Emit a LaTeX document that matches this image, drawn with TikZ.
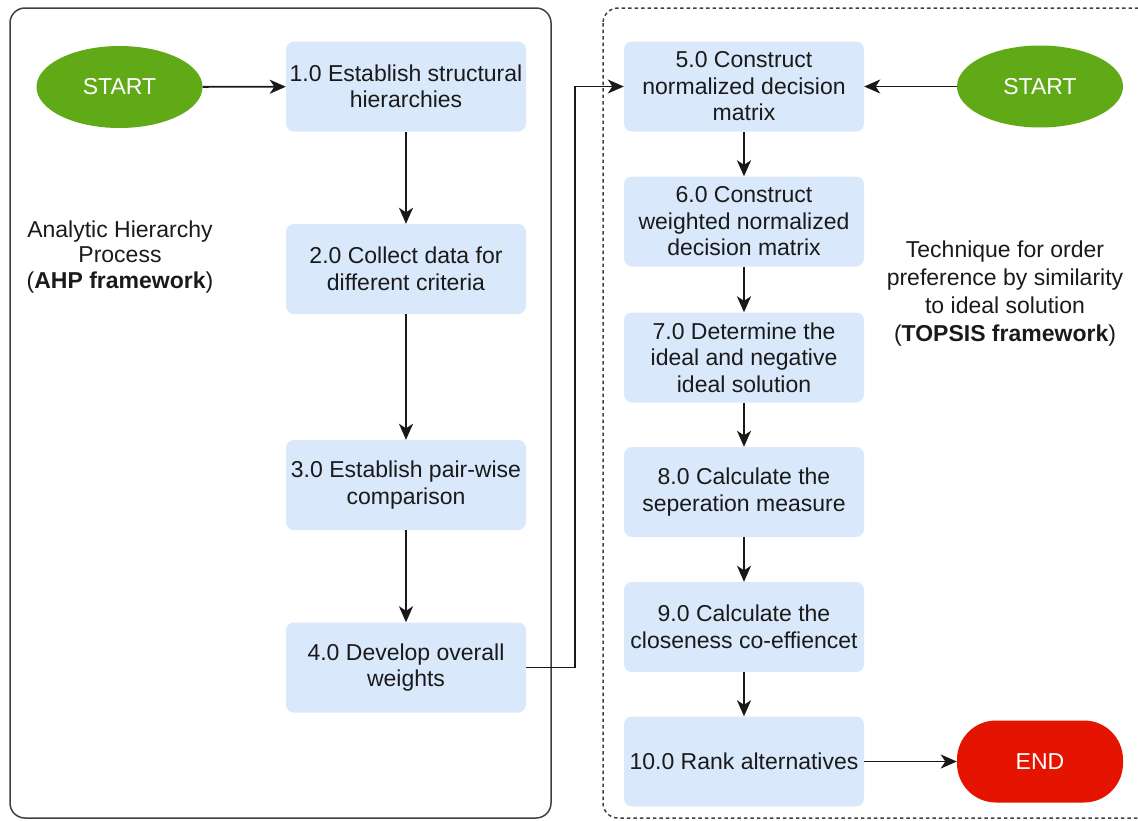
\documentclass[tikz,border=0pt]{standalone}
\usepackage{fontspec}
\setmainfont{Liberation Sans}
\usetikzlibrary{arrows.meta,shapes.geometric}
\definecolor{boxblue}{HTML}{DAE8FC}
\definecolor{startgreen}{HTML}{60A917}
\definecolor{endred}{HTML}{E51400}
\definecolor{txt}{HTML}{1A1A1A}
\tikzset{
  stepbox/.style={rectangle, rounded corners=8pt, fill=boxblue, draw=none,
    minimum width=240pt, minimum height=90pt, inner sep=1pt, align=center,
    text=txt, font=\fontsize{23}{26.5}\selectfont},
  startnode/.style={ellipse, fill=startgreen, draw=none, minimum width=166pt,
    minimum height=82pt, inner sep=0pt, text=white, font=\fontsize{23}{26}\selectfont},
  endnode/.style={rectangle, rounded corners=39pt, fill=endred, draw=none, minimum width=166pt,
    minimum height=82pt, inner sep=0pt, text=white, font=\fontsize{23}{26}\selectfont},
  framelabel/.style={align=center, text=txt, inner sep=0pt},
  arr/.style={line width=1.8pt, black!90, -{Stealth[length=16pt,width=14pt,inset=4.5pt]}},
  frame/.style={line width=1.5pt, black!75, rounded corners=15pt},
}
\begin{document}
\begin{tikzpicture}[x=1pt,y=-1pt]
\useasboundingbox (0,0) rectangle (1138,820);
\begin{scope}
\clip (0,0) rectangle (1138,820);
\draw[frame] (10,8) rectangle (551,818);
\draw[frame, dash pattern=on 3.5pt off 3pt] (603,8) rectangle (1170,818);
\end{scope}

\node[startnode] (s1) at (119.5,87) {START};
\node[stepbox] (b1) at (406,86.5) {1.0 Establish structural\\hierarchies};
\node[stepbox] (b2) at (406,269) {2.0 Collect data for\\different criteria};
\node[stepbox] (b3) at (406,485) {3.0 Establish pair-wise\\comparison};
\node[stepbox] (b4) at (406,667.5) {4.0 Develop overall\\weights};

\node[stepbox] (b5) at (744,86.5) {5.0 Construct\\normalized decision\\matrix};
\node[stepbox] (b6) at (744,221.5) {6.0 Construct\\weighted normalized\\decision matrix};
\node[stepbox] (b7) at (744,357.5) {7.0 Determine the\\ideal and negative\\ideal solution};
\node[stepbox] (b8) at (744,492) {8.0 Calculate the\\seperation measure};
\node[stepbox] (b9) at (744,627) {9.0 Calculate the\\closeness co-effiencet};
\node[stepbox] (b10) at (744,761.5) {10.0 Rank alternatives};

\node[startnode] (s2) at (1040,86.5) {START};
\node[endnode] (e) at (1040,761.5) {END};

\node[framelabel, font=\fontsize{23}{25.5}\selectfont] (l1) at (120,257) {Analytic Hierarchy\\Process\\(\textbf{AHP framework})};
\node[framelabel, font=\fontsize{23}{27.7}\selectfont] (l2) at (1005,293.5) {Technique for order\\preference by similarity\\to ideal solution\\(\textbf{TOPSIS framework})};

\draw[arr] (s1) -- (b1);
\draw[arr] (b1) -- (b2);
\draw[arr] (b2) -- (b3);
\draw[arr] (b3) -- (b4);
\draw[arr] (b4.east) -- ++(49,0) |- (b5.west);
\draw[arr] (s2) -- (b5);
\draw[arr] (b5) -- (b6);
\draw[arr] (b6) -- (b7);
\draw[arr] (b7) -- (b8);
\draw[arr] (b8) -- (b9);
\draw[arr] (b9) -- (b10);
\draw[arr] (b10) -- (e);
\end{tikzpicture}
\end{document}
